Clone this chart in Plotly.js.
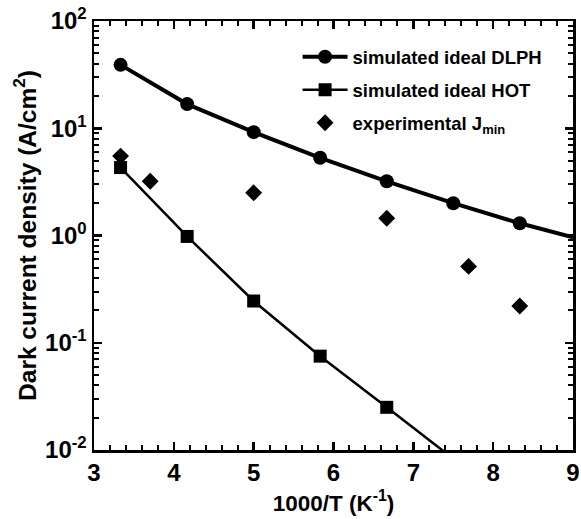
<!DOCTYPE html>
<html>
<head>
<meta charset="utf-8">
<script src="https://cdn.plot.ly/plotly-3.0.1.min.js"></script>
<style>html,body{margin:0;padding:0;background:#fff;}#chart{width:581px;height:519px;}</style>
</head>
<body>
<div id="chart"></div>
<script>
// 1000/T (K^-1)
const dlphX = [3.333, 4.167, 5.0, 5.833, 6.667, 7.5, 8.333];
const dlphY = [39, 16.8, 9.2, 5.3, 3.2, 2.0, 1.3];
const dlphFitX = [8.333, 9.0];
const dlphFitY = [1.3, 0.96];

const hotX = [3.333, 4.167, 5.0, 5.833, 6.667];
const hotY = [4.3, 0.98, 0.245, 0.075, 0.025];
const hotFitX = [6.667, 7.5];
const hotFitY = [0.025, 0.0083];

const expX = [3.333, 3.704, 5.0, 6.667, 7.692, 8.333];
const expY = [5.5, 3.2, 2.5, 1.45, 0.515, 0.22];

const yTickVals = [0.01, 0.1, 1, 10, 100];
const yTickText = ['10<sup>-2</sup>', '10<sup>-1</sup>', '10<sup>0</sup>', '10<sup>1</sup>', '10<sup>2</sup>'];

const FONT = 'Liberation Sans, Arial, sans-serif';

const traces = [
  {x: dlphX, y: dlphY, mode: 'lines+markers', name: 'simulated ideal DLPH',
   legendgroup: 'a', line: {color: '#000', width: 4},
   marker: {symbol: 'circle', size: 14, color: '#000'}},
  {x: dlphFitX, y: dlphFitY, mode: 'lines', showlegend: false, legendgroup: 'a',
   line: {color: '#000', width: 4}, hoverinfo: 'skip'},
  {x: hotX, y: hotY, mode: 'lines+markers', name: 'simulated ideal HOT',
   legendgroup: 'b', line: {color: '#000', width: 2.5},
   marker: {symbol: 'square', size: 13, color: '#000'}},
  {x: hotFitX, y: hotFitY, mode: 'lines', showlegend: false, legendgroup: 'b',
   line: {color: '#000', width: 2.5}, hoverinfo: 'skip'},
  {x: expX, y: expY, mode: 'markers', name: 'experimental J<sub>min</sub>',
   legendgroup: 'c', marker: {symbol: 'diamond', size: 13, color: '#000'}}
];

const axisCommon = {
  showline: true, linecolor: '#000', linewidth: 2.5, mirror: 'allticks',
  ticks: 'inside', ticklen: 8, tickwidth: 2.5, tickcolor: '#000',
  showgrid: false, zeroline: false,
  tickfont: {family: FONT, size: 24, color: '#000', weight: 'bold'}
};

const layout = {
  width: 581, height: 519,
  margin: {l: 94, r: 8, t: 21, b: 69},
  paper_bgcolor: '#fff', plot_bgcolor: '#fff',
  font: {family: FONT, color: '#000'},
  xaxis: Object.assign({}, axisCommon, {
    range: [3, 9], dtick: 1, tick0: 3,
    minor: {dtick: 0.2, ticks: 'inside', ticklen: 5, tickwidth: 2, tickcolor: '#000'},
    title: {text: '1000/T (K<sup>-1</sup>)', standoff: 10,
            font: {family: FONT, size: 22.5, color: '#000', weight: 'bold'}}
  }),
  yaxis: Object.assign({}, axisCommon, {
    type: 'log', range: [-2, 2],
    tickmode: 'array', tickvals: yTickVals, ticktext: yTickText,
    minor: {dtick: 'D1', ticks: 'inside', ticklen: 5, tickwidth: 2, tickcolor: '#000'},
    title: {text: 'Dark current density (A/cm<sup>2</sup>)', standoff: 2,
            font: {family: FONT, size: 24.5, color: '#000', weight: 'bold'}}
  }),
  legend: {
    x: 0.425, y: 0.96, xanchor: 'left', yanchor: 'top',
    bgcolor: 'rgba(0,0,0,0)', borderwidth: 0,
    itemwidth: 45,
    tracegroupgap: 6,
    font: {family: FONT, size: 18.5, color: '#000', weight: 'bold'}
  },
  showlegend: true
};

Plotly.newPlot('chart', traces, layout, {displayModeBar: false, staticPlot: true});
</script>
</body>
</html>
